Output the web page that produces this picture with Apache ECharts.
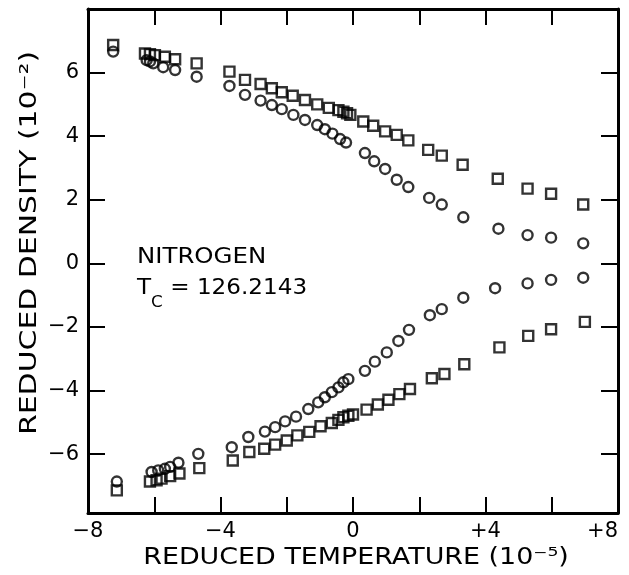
<!DOCTYPE html>
<html>
<head>
<meta charset="utf-8">
<script src="https://cdn.jsdelivr.net/npm/echarts@6/dist/echarts.min.js"></script>
<style>
html,body{margin:0;padding:0;background:#fff;}
#chart{width:629px;height:575px;}
</style>
</head>
<body>
<div id="chart"></div>
<script>
// Squares, upper branch (reduced temperature 1e-5, reduced density 1e-2)
var sqUpT = [-7.24,-6.28,-6.13,-5.98,-5.68,-5.37,-4.72,-3.73,-3.26,-2.79,-2.45,-2.15,-1.82,-1.45,-1.08,-0.73,-0.44,-0.29,-0.18,-0.08,0.31,0.61,0.97,1.32,1.67,2.27,2.68,3.31,4.37,5.27,5.98,6.95];
var sqUpR = [6.87,6.60,6.58,6.55,6.50,6.42,6.29,6.03,5.77,5.64,5.51,5.38,5.27,5.14,5.00,4.89,4.82,4.77,4.72,4.67,4.46,4.33,4.15,4.04,3.87,3.57,3.39,3.10,2.66,2.35,2.19,1.85];
// Circles, upper branch
var ciUpT = [-7.24,-6.23,-6.13,-6.03,-5.73,-5.37,-4.72,-3.73,-3.26,-2.79,-2.45,-2.15,-1.80,-1.45,-1.08,-0.85,-0.62,-0.39,-0.21,0.36,0.64,0.97,1.32,1.67,2.30,2.68,3.33,4.39,5.27,5.98,6.95];
var ciUpR = [6.66,6.39,6.35,6.29,6.17,6.08,5.87,5.58,5.30,5.12,4.98,4.85,4.67,4.51,4.35,4.22,4.08,3.91,3.80,3.47,3.21,2.97,2.63,2.40,2.06,1.85,1.45,1.09,0.89,0.81,0.63];
// Circles, lower branch
var ciLoT = [-7.13,-6.08,-5.88,-5.68,-5.52,-5.27,-4.67,-3.66,-3.16,-2.66,-2.35,-2.05,-1.72,-1.35,-1.05,-0.85,-0.64,-0.44,-0.29,-0.14,0.36,0.66,1.02,1.37,1.69,2.32,2.68,3.33,4.29,5.27,5.98,6.95];
var ciLoR = [-6.86,-6.56,-6.51,-6.46,-6.40,-6.27,-5.99,-5.78,-5.46,-5.29,-5.15,-4.97,-4.82,-4.58,-4.37,-4.21,-4.05,-3.90,-3.74,-3.64,-3.38,-3.09,-2.80,-2.44,-2.09,-1.63,-1.44,-1.08,-0.78,-0.63,-0.52,-0.45];
// Squares, lower branch
var sqLoT = [-7.13,-6.13,-5.93,-5.78,-5.52,-5.24,-4.64,-3.63,-3.13,-2.68,-2.35,-2.00,-1.68,-1.32,-0.98,-0.64,-0.44,-0.29,-0.14,0.00,0.41,0.75,1.07,1.40,1.72,2.38,2.76,3.36,4.42,5.29,5.98,7.00];
var sqLoR = [-7.14,-6.86,-6.82,-6.77,-6.69,-6.61,-6.44,-6.20,-5.93,-5.83,-5.70,-5.57,-5.41,-5.30,-5.12,-5.02,-4.92,-4.84,-4.79,-4.75,-4.60,-4.44,-4.29,-4.11,-3.95,-3.61,-3.48,-3.17,-2.64,-2.28,-2.07,-1.84];

var xLabelValues = [-8,-4,0,4,8];
var yTickValues = [-6,-4,-2,0,2,4,6];
var xTitle = 'REDUCED TEMPERATURE (10\u207B\u2075)';
var yTitle = 'REDUCED DENSITY (10\u207B\u00B2)';
var gasName = 'NITROGEN';
var tcValue = '126.2143';

function pairs(a, b) { return a.map(function (v, i) { return [v, b[i]]; }); }
function fmtX(v) {
  if (v > 0) return '+' + v;
  if (v < 0) return '\u2212' + (-v);
  return '0';
}

var FONT = 'DejaVu Sans';
var INK = '#000';
var markStyle = { color: 'rgba(0,0,0,0)', borderColor: INK, borderWidth: 2.4 };

var chart = echarts.init(document.getElementById('chart'), null, { renderer: 'canvas' });
var axisCommon = {
  axisLine: { show: true, onZero: false, lineStyle: { color: INK, width: 3 } },
  axisTick: { show: true, inside: true, length: 16, lineStyle: { color: INK, width: 2 } },
  splitLine: { show: false }
};
chart.setOption({
  backgroundColor: '#fff',
  animation: false,
  grid: { left: 88, right: 11, top: 9, bottom: 62, containLabel: false, outerBoundsMode: 'none' },
  xAxis: [
    Object.assign({}, axisCommon, {
      type: 'value', position: 'bottom', min: -8, max: 8, interval: 2,
      axisLabel: { show: true, customValues: xLabelValues, margin: 8, fontFamily: FONT, fontSize: 21, color: INK,
        alignMaxLabel: 'right', hideOverlap: false,
        formatter: function (v) { return fmtX(v); } }
    }),
    Object.assign({}, axisCommon, {
      type: 'value', position: 'top', min: -8, max: 8, interval: 2,
      axisLabel: { show: false }
    })
  ],
  yAxis: [
    Object.assign({}, axisCommon, {
      type: 'value', position: 'left', min: -7.85, max: 8,
      axisTick: { show: true, inside: true, length: 17, customValues: yTickValues, lineStyle: { color: INK, width: 2 } },
      axisLabel: { show: true, customValues: yTickValues, margin: 9, fontFamily: FONT, fontSize: 21, color: INK,
        formatter: function (v) { return v < 0 ? '\u2212' + (-v) : String(v); } }
    }),
    Object.assign({}, axisCommon, {
      type: 'value', position: 'right', min: -7.85, max: 8,
      axisTick: { show: true, inside: true, length: 17, customValues: yTickValues, lineStyle: { color: INK, width: 2 } },
      axisLabel: { show: false }
    })
  ],
  series: [
    { type: 'scatter', name: 'squares upper', symbol: 'rect', symbolSize: 10, itemStyle: markStyle, data: pairs(sqUpT, sqUpR) },
    { type: 'scatter', name: 'circles upper', symbol: 'circle', symbolSize: 10, itemStyle: markStyle, data: pairs(ciUpT, ciUpR) },
    { type: 'scatter', name: 'circles lower', symbol: 'circle', symbolSize: 10, itemStyle: markStyle, data: pairs(ciLoT, ciLoR) },
    { type: 'scatter', name: 'squares lower', symbol: 'rect', symbolSize: 10, itemStyle: markStyle, data: pairs(sqLoT, sqLoR) }
  ],
  graphic: [
    { type: 'text', x: 137, y: 246, scaleX: 1.11, style: { text: gasName, font: '22px "' + FONT + '"', fill: INK, textAlign: 'left', textVerticalAlign: 'top' } },
    { type: 'text', x: 137, y: 277, scaleX: 1.05, style: {
        text: '{t|T}{s|C}{t| = ' + tcValue + '}',
        textAlign: 'left', textVerticalAlign: 'top',
        rich: {
          t: { fontFamily: FONT, fontSize: 22, lineHeight: 34, verticalAlign: 'top', fill: INK, color: INK },
          s: { fontFamily: FONT, fontSize: 16, verticalAlign: 'bottom', fill: INK, color: INK }
        }
      } },
    { type: 'text', x: 356, y: 558, scaleX: 1.17, style: { text: xTitle, font: '23px "' + FONT + '"', fill: INK, textAlign: 'center', textVerticalAlign: 'middle' } },
    { type: 'text', x: 30, y: 243, rotation: Math.PI / 2, scaleX: 1.3, style: { text: yTitle, font: '23px "' + FONT + '"', fill: INK, textAlign: 'center', textVerticalAlign: 'middle' } }
  ]
});
</script>
</body>
</html>
